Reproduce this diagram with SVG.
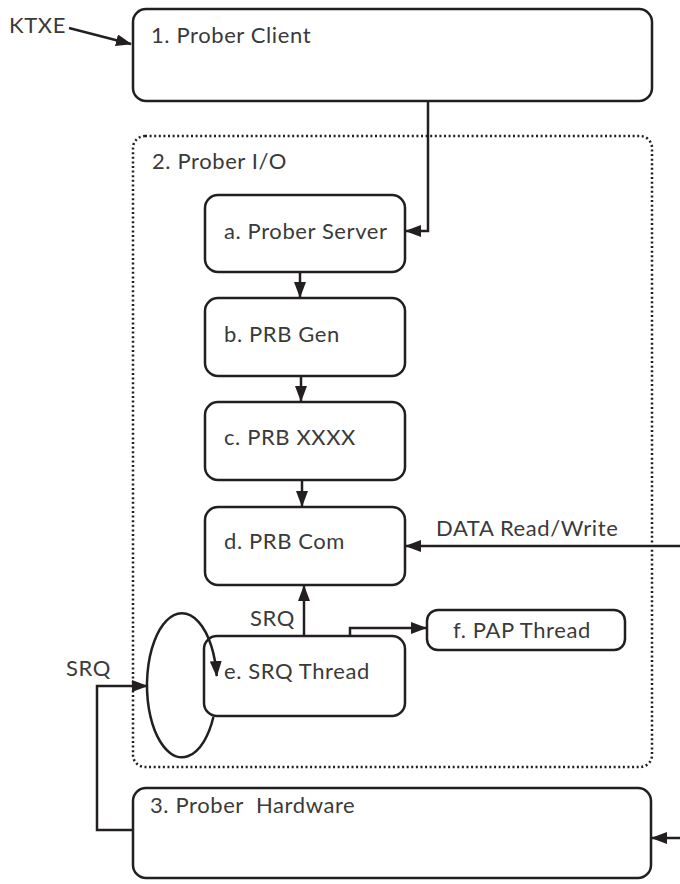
<svg xmlns="http://www.w3.org/2000/svg" width="680" height="884" viewBox="0 0 680 884">
  <style>
    .box { fill: #ffffff; stroke: #231f20; stroke-width: 2.5; }
    .group { fill: none; stroke: #231f20; stroke-width: 2.5; stroke-dasharray: 2 2.6; }
    .wire { fill: none; stroke: #231f20; stroke-width: 2.5; }
    .lbl { font-family: Lato, "Open Sans", sans-serif; font-size: 22px; letter-spacing: 0.6px; fill: #3a3a3a; white-space: pre; }
  </style>
  <defs>
    <marker id="arrow" markerUnits="userSpaceOnUse" markerWidth="16" markerHeight="12" refX="15" refY="6" orient="auto">
      <path d="M0,0 L16,6 L0,12 Z" fill="#231f20"/>
    </marker>
  </defs>

  <!-- Prober I/O container -->
  <g id="prober-io">
    <rect class="group" x="133" y="136" width="519" height="631" rx="12"/>
    <text class="lbl" x="152" y="169">2. Prober I/O</text>
  </g>

  <g id="prober-client">
    <rect class="box" x="133" y="9" width="519" height="92" rx="13"/>
    <text class="lbl" x="151" y="43">1. Prober Client</text>
  </g>

  <g id="prober-server">
    <rect class="box" x="205" y="195" width="200" height="77" rx="13"/>
    <text class="lbl" x="224" y="239">a. Prober Server</text>
  </g>

  <g id="prb-gen">
    <rect class="box" x="205" y="298" width="200" height="78" rx="13"/>
    <text class="lbl" x="224" y="342">b. PRB Gen</text>
  </g>

  <g id="prb-xxxx">
    <rect class="box" x="205" y="402" width="200" height="78" rx="13"/>
    <text class="lbl" x="224" y="445">c. PRB XXXX</text>
  </g>

  <g id="prb-com">
    <rect class="box" x="205" y="507" width="200" height="78" rx="13"/>
    <text class="lbl" x="224" y="549">d. PRB Com</text>
  </g>

  <g id="srq-thread">
    <rect class="box" x="204" y="636" width="201" height="80" rx="13"/>
    <text class="lbl" x="224" y="679">e. SRQ Thread</text>
  </g>

  <g id="pap-thread">
    <rect class="box" x="427" y="610" width="198" height="40" rx="11"/>
    <text class="lbl" x="453" y="638">f. PAP Thread</text>
  </g>

  <g id="prober-hardware">
    <rect class="box" x="133" y="788" width="518" height="90" rx="13"/>
    <text class="lbl" x="150" y="813">3. Prober  Hardware</text>
  </g>

  <g id="connectors">
    <line class="wire" x1="69" y1="28" x2="131" y2="44" marker-end="url(#arrow)"/>
    <text class="lbl" x="9" y="33" letter-spacing="0">KTXE</text>

    <polyline class="wire" points="428,101 428,231 406,231" marker-end="url(#arrow)"/>
    <line class="wire" x1="300" y1="272" x2="300" y2="297" marker-end="url(#arrow)"/>
    <line class="wire" x1="301" y1="376" x2="301" y2="401" marker-end="url(#arrow)"/>
    <line class="wire" x1="302" y1="480" x2="302" y2="506" marker-end="url(#arrow)"/>

    <line class="wire" x1="680" y1="546" x2="406" y2="546" marker-end="url(#arrow)"/>
    <text class="lbl" x="436" y="536">DATA Read/Write</text>

    <line class="wire" x1="304" y1="636" x2="304" y2="586" marker-end="url(#arrow)"/>
    <text class="lbl" x="250" y="626">SRQ</text>

    <polyline class="wire" points="350,636 350,628 426,628" marker-end="url(#arrow)"/>

    <!-- SRQ loop around the thread -->
    <path class="wire" d="M 213.4 717 A 35 72 0 1 1 216.7 676" marker-end="url(#arrow)"/>

    <polyline class="wire" points="133,830 97,830 97,686 147,686" marker-end="url(#arrow)"/>
    <text class="lbl" x="66" y="676">SRQ</text>

    <line class="wire" x1="680" y1="838" x2="652" y2="838" marker-end="url(#arrow)"/>
  </g>
</svg>
